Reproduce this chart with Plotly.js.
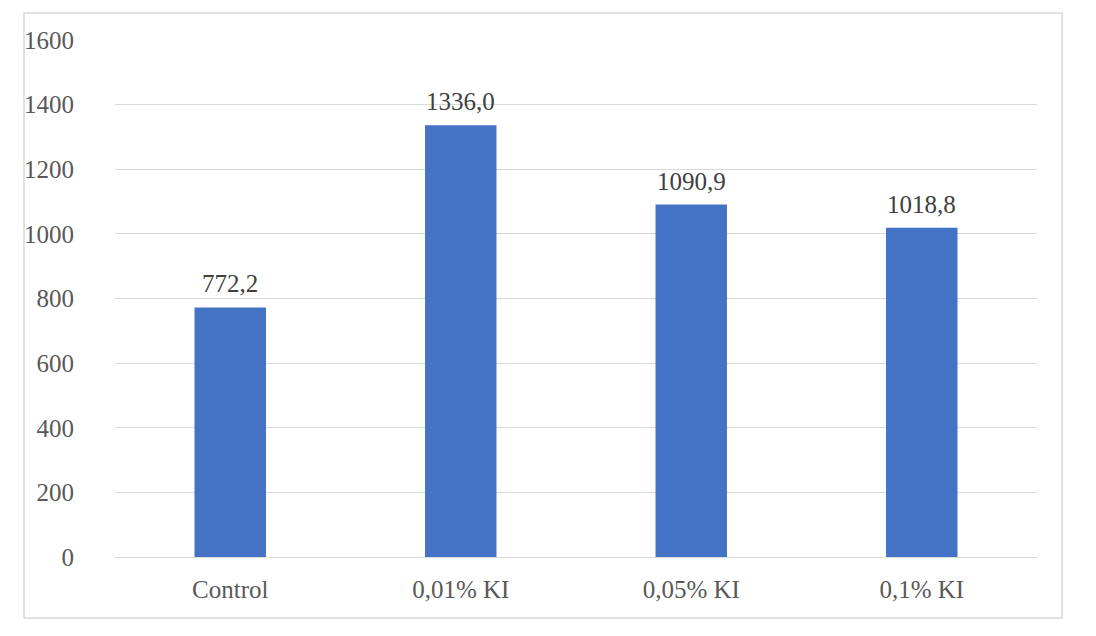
<!DOCTYPE html>
<html>
<head>
<meta charset="utf-8">
<script src="https://cdn.plot.ly/plotly-3.0.1.min.js"></script>
<style>
  body { margin: 0; background: #fff; }
  #chart { width: 1096px; height: 636px; }
</style>
</head>
<body>
<div id="chart"></div>
<script>
var categories = ["Control", "0,01% KI", "0,05% KI", "0,1% KI"];
var values = [772.2, 1336.0, 1090.9, 1018.8];
var yTicks = [0, 200, 400, 600, 800, 1000, 1200, 1400, 1600];

var CHART = document.getElementById('chart');
var serif = "'Liberation Serif', 'Times New Roman', serif";

// plot area in pixels, used to place the outer frame
var plotL = 115, plotR = 1037, plotT = 40, plotB = 557;
var plotW = plotR - plotL, plotH = plotB - plotT;

var trace1 = {
  x: categories,
  y: values,
  type: "bar",
  width: 0.31,
  marker: { color: "#4472c4" },
  hoverinfo: "x+y"
};

// value labels above the bars
var labels = [];
for (let i = 0; i < categories.length; i++) {
  labels.push({
    x: categories[i],
    y: values[i],
    xref: "x",
    yref: "y",
    text: values[i].toFixed(1).replace(".", ","),
    showarrow: false,
    yanchor: "bottom",
    yshift: 8,
    font: { family: serif, size: 25, color: "#404040" }
  });
}

var layout = {
  width: 1096,
  height: 636,
  margin: { l: plotL, r: 1096 - plotR, t: plotT, b: 636 - plotB },
  paper_bgcolor: "#fff",
  plot_bgcolor: "#fff",
  showlegend: false,
  font: { family: serif, size: 25, color: "#595959" },
  xaxis: {
    showgrid: false,
    showline: true,
    linecolor: "#d9d9d9",
    linewidth: 1,
    ticks: "",
    ticklabelstandoff: 10,
    tickfont: { family: serif, size: 25, color: "#595959" }
  },
  yaxis: {
    range: [0, 1600],
    tickvals: yTicks,
    showgrid: true,
    gridcolor: "#d9d9d9",
    gridwidth: 1,
    zeroline: false,
    showline: false,
    ticks: "",
    ticklabelstandoff: 40,
    tickfont: { family: serif, size: 25, color: "#595959" }
  },
  annotations: labels,
  shapes: [{
    type: "rect",
    xref: "paper",
    yref: "paper",
    x0: (24 - plotL) / plotW,
    x1: (1062 - plotL) / plotW,
    y0: (plotB - 618) / plotH,
    y1: (plotB - 13) / plotH,
    line: { color: "#d9d9d9", width: 1.5 },
    layer: "below"
  }]
};

Plotly.newPlot(CHART, [trace1], layout, { displayModeBar: false, staticPlot: true });
</script>
</body>
</html>
